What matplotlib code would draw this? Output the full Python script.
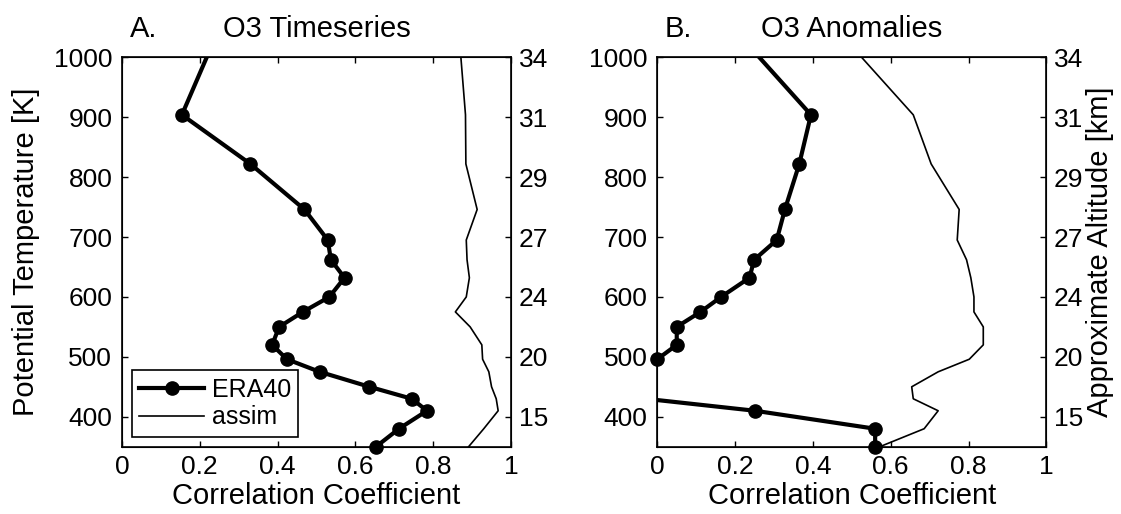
import matplotlib
matplotlib.use("Agg")
import matplotlib.pyplot as plt
from matplotlib.lines import Line2D
import numpy as np

plt.rcParams['font.family'] = ['Liberation Sans', 'DejaVu Sans']
plt.rcParams['font.size'] = 21

# potential temperature levels [K]
theta = [350, 380, 410, 430, 450, 475, 496, 520, 550, 575, 600,
         632, 662, 695, 746, 822, 904, 1050]

# A. O3 timeseries correlations
era40_ts = [0.653, 0.712, 0.784, 0.745, 0.636, 0.508, 0.424, 0.386, 0.404,
            0.465, 0.533, 0.572, 0.537, 0.529, 0.469, 0.330, 0.154, 0.251]
assim_ts = [0.891, 0.930, 0.967, 0.962, 0.950, 0.943, 0.927, 0.925, 0.895,
            0.857, 0.885, 0.893, 0.887, 0.885, 0.913, 0.884, 0.883, 0.865]

# B. O3 anomaly correlations
era40_an = [0.560, 0.560, 0.251, -0.03, -0.12, -0.08, 0.0, 0.050, 0.050,
            0.111, 0.164, 0.237, 0.249, 0.307, 0.328, 0.365, 0.395, 0.193]
assim_an = [0.572, 0.686, 0.722, 0.658, 0.654, 0.722, 0.802, 0.838, 0.838,
            0.814, 0.814, 0.806, 0.795, 0.771, 0.776, 0.704, 0.658, 0.456]

yticks = [400, 500, 600, 700, 800, 900, 1000]
alt_labels = ['15', '20', '24', '27', '29', '31', '34']
xticks = [0, 0.2, 0.4, 0.6, 0.8, 1]
xticklabels = ['0', '0.2', '0.4', '0.6', '0.8', '1']

TICK_FS = 19

fig = plt.figure(figsize=(11.21, 5.14), dpi=100)
W, H = 1121, 514
axA = fig.add_axes([122 / W, 1 - 446.7 / H, 389 / W, 389.4 / H])
axB = fig.add_axes([657.3 / W, 1 - 446.7 / H, 389 / W, 389.4 / H])


def draw_panel(ax, era, assim, letter, title, right_label=None):
    t = np.array(theta)
    e = np.array(era)
    ax.plot(assim, theta, color='k', lw=1.2)
    ax.plot(era, theta, color='k', lw=3.0)
    # markers inside the box are drawn whole, like the original
    inside = (e >= 0) & (e <= 1) & (t >= 350) & (t <= 1000)
    ax.plot(e[inside], t[inside], 'o', color='k', ms=9.5, clip_on=False)
    ax.set_xlim(0, 1)
    ax.set_ylim(350, 1000)
    ax.set_xticks(xticks)
    ax.set_xticklabels(xticklabels)
    ax.set_yticks(yticks)
    ax.tick_params(direction='in', length=4.5, width=1, top=True,
                   right=False, labelsize=TICK_FS)
    ax.tick_params(axis='y', pad=7)
    ax.tick_params(axis='x', pad=6)
    for s in ax.spines.values():
        s.set_linewidth(1.2)
    ax.set_xlabel('Correlation Coefficient', labelpad=2)
    ax.text(0.02, 1.052, letter, transform=ax.transAxes, ha='left',
            va='baseline')
    ax.text(0.5, 1.052, title, transform=ax.transAxes, ha='center',
            va='baseline')
    ax2 = ax.twinx()
    ax2.set_ylim(350, 1000)
    ax2.set_yticks(yticks)
    ax2.set_yticklabels(alt_labels)
    ax2.tick_params(direction='in', length=4.5, width=1, pad=5.5,
                    labelsize=TICK_FS)
    if right_label:
        ax2.set_ylabel(right_label, labelpad=2)
    return ax2


draw_panel(axA, era40_ts, assim_ts, 'A.', 'O3 Timeseries')
draw_panel(axB, era40_an, assim_an, 'B.', 'O3 Anomalies',
           right_label='Approximate Altitude [km]')
axA.set_ylabel('Potential Temperature [K]', labelpad=10)

handles = [Line2D([], [], color='k', lw=3.0, marker='o', ms=9.5),
           Line2D([], [], color='k', lw=1.2)]
leg = axA.legend(handles, ['ERA40', 'assim'], loc='lower left',
                 bbox_to_anchor=(0.025, 0.025), fancybox=False, framealpha=1,
                 edgecolor='k', fontsize=18, handlelength=2.6, borderpad=0.3,
                 labelspacing=0.15, handletextpad=0.3, borderaxespad=0)
leg.get_frame().set_linewidth(1.2)
leg.set_zorder(10)

fig.savefig('out.png', dpi=100)
